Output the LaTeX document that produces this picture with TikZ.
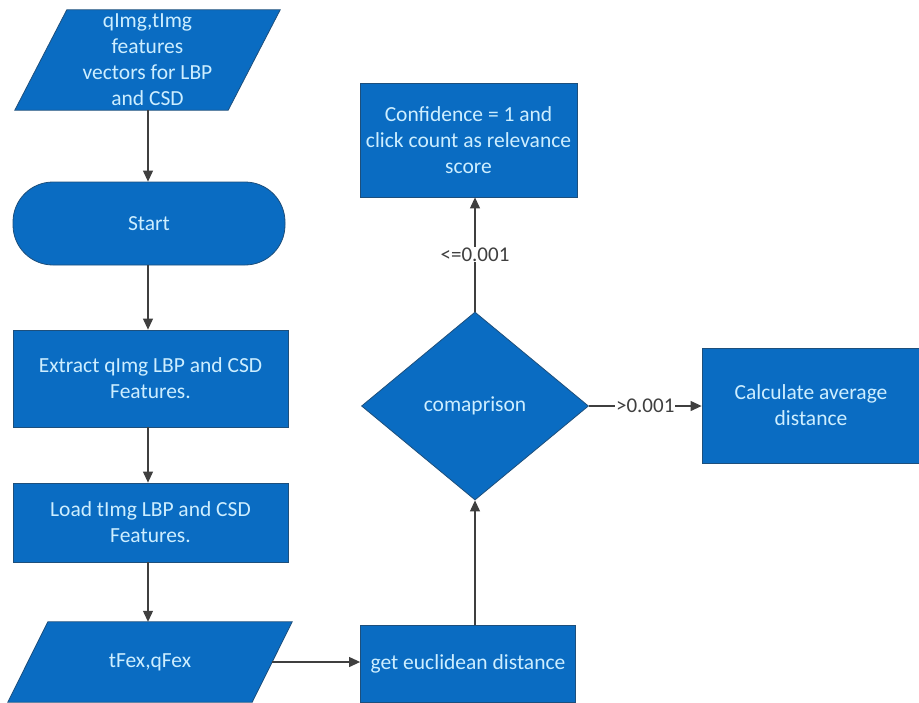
\documentclass[tikz,border=0pt]{standalone}
\usepackage{fontspec}
\setmainfont{Carlito}
\usetikzlibrary{shapes.geometric,arrows.meta,calc}
\definecolor{boxfill}{HTML}{0A6CC2}
\definecolor{boxedge}{HTML}{1D4F7C}
\definecolor{boxtext}{HTML}{CDEEFF}
\definecolor{linegray}{HTML}{3F3F3F}
\begin{document}
\begin{tikzpicture}[x=1pt,y=-1pt,
  base/.style={fill=boxfill,draw=boxedge,line width=0.8pt,text=boxtext,
    font=\fontsize{21.5}{26}\selectfont,align=center,inner sep=0pt},
  procbox/.style={base,rectangle},
  termbox/.style={base,rectangle,rounded corners=40pt},
  iotext/.style={rectangle,text=boxtext,
    font=\fontsize{21.5}{26}\selectfont,align=center,inner sep=0pt},
  iofill/.style={fill=boxfill,draw=boxedge,line width=0.8pt},
  decbox/.style={base,diamond},
  flow/.style={draw=linegray,line width=1.1pt,
    -{Triangle[length=11pt,width=10pt]}},
  lbl/.style={fill=white,text=linegray,inner sep=1pt,
    font=\fontsize{21}{24}\selectfont}
]
\useasboundingbox (0,0) rectangle (919,702);

% left column
\node[iotext,minimum width=265pt,minimum height=100pt] (inp) at (147.5,60) {};
\node[iotext,minimum width=284pt,minimum height=80pt] (fex) at (150,662) {};
% parallelogram bodies (slanted input/output shapes)
\path[iofill] (inp.south west) -- ($(inp.north west)+(52,0)$) -- (inp.north east)
  -- ($(inp.south east)+(-52,0)$) -- cycle;
\path[iofill] (fex.south west) -- ($(fex.north west)+(40,0)$) -- (fex.north east)
  -- ($(fex.south east)+(-40,0)$) -- cycle;
\node[iotext] at (inp.center) {qImg,tImg\\features\\vectors for LBP\\and CSD};
\node[iotext] at (fex.center) {tFex,qFex};
\coordinate (fexR) at ($(fex.east)+(-20,0)$);

\node[termbox,minimum width=272pt,minimum height=83pt] (start) at (149,223.5) {Start};
\node[procbox,minimum width=275pt,minimum height=97pt] (extract) at (150.5,378.5)
  {Extract qImg LBP and CSD\\Features.};
\node[procbox,minimum width=275pt,minimum height=79pt] (load) at (150.5,522.5)
  {Load tImg LBP and CSD\\Features.};

% right part
\node[procbox,minimum width=215pt,minimum height=77pt] (dist) at (468,663.5)
  {get euclidean distance};
\node[decbox,minimum width=227pt,minimum height=188pt] (cmp) at (475,406) {comaprison};
\node[procbox,minimum width=217pt,minimum height=114pt] (conf) at (468.5,140)
  {Confidence = 1 and\\click count as relevance\\score};
\node[procbox,minimum width=218pt,minimum height=115pt] (avg) at (811,405.5)
  {Calculate average\\distance};

% connectors
\draw[flow] (inp.south -| 148,0) -- (start.north -| 148,0);
\draw[flow] (start.south -| 148,0) -- (extract.north -| 148,0);
\draw[flow] (extract.south -| 148,0) -- (load.north -| 148,0);
\draw[flow] (load.south -| 148,0) -- (fex.north -| 148,0);
\draw[flow] (fexR) -- (dist.west |- fexR);
\draw[flow] (dist.north -| cmp.south) -- (cmp.south);
\draw[flow] (cmp.north) -- node[lbl] (le) {<=0.001} (conf.south -| cmp.north);
\draw[flow] (cmp.east) -- node[lbl] (gt) {>0.001} (avg.west |- cmp.east);
\end{tikzpicture}
\end{document}
